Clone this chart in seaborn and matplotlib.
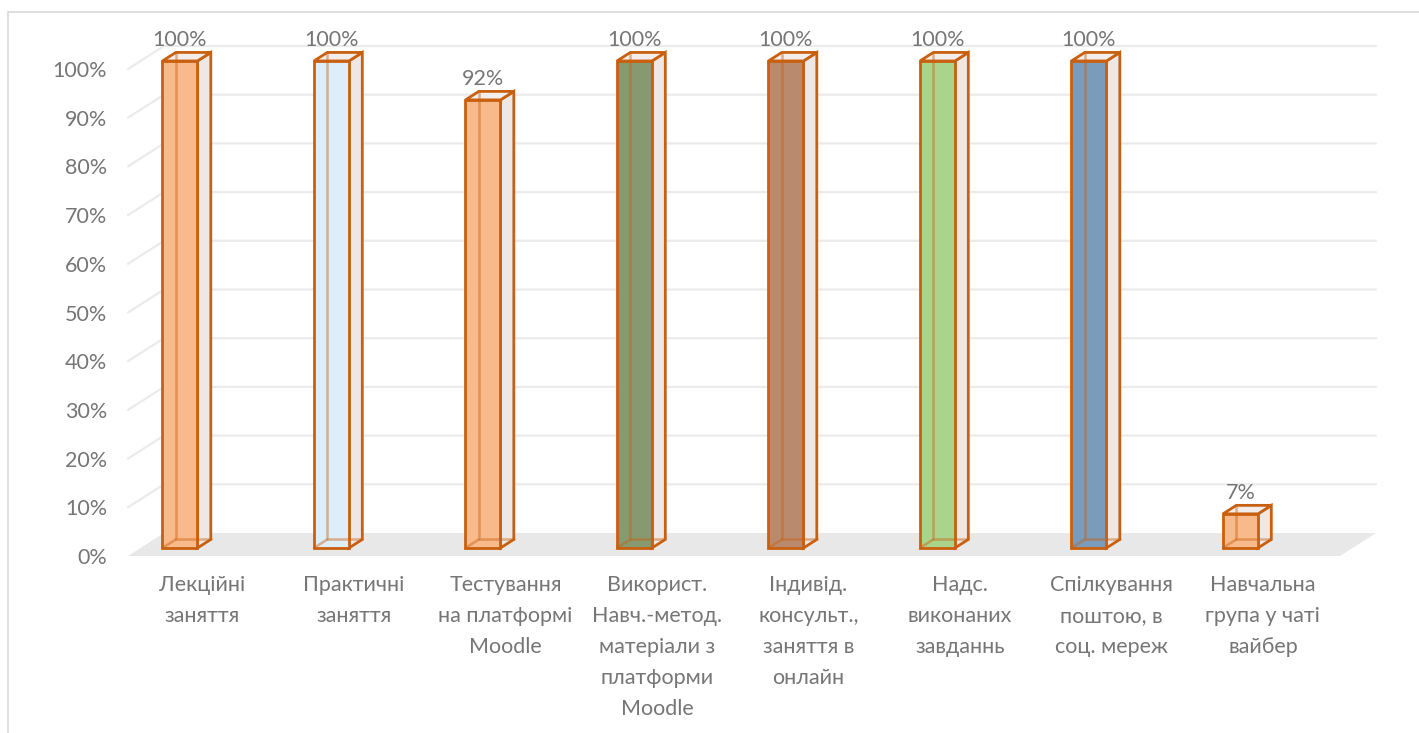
import numpy as np
import matplotlib
matplotlib.use("Agg")
import matplotlib.pyplot as plt
import seaborn as sns
from matplotlib.patches import Polygon, Rectangle
from matplotlib.ticker import PercentFormatter

categories = [
    "Лекційні\nзаняття",
    "Практичні\nзаняття",
    "Тестування\nна платформі\nMoodle",
    "Використ.\nНавч.-метод.\nматеріали з\nплатформи\nMoodle",
    "Індивід.\nконсульт.,\nзаняття в\nонлайн",
    "Надс.\nвиконаних\nзавданнь",
    "Спілкування\nпоштою, в\nсоц. мереж",
    "Навчальна\nгрупа у чаті\nвайбер",
]
values = [1.00, 1.00, 0.92, 1.00, 1.00, 1.00, 1.00, 0.07]
bar_colors = ["#F8B98B", "#DEEEF8", "#F8B98B", "#87996F",
              "#BA8A6E", "#AAD48C", "#7A9BBA", "#F8B98B"]
edge_color = "#C9600F"
text_color = "#767676"

sns.set_theme(style="white")
plt.rcParams['font.family'] = ['Lato', 'DejaVu Sans']

W, H = 1419, 733
fig = plt.figure(figsize=(W / 100, H / 100), dpi=100)
# front plane of the 3D box (pixels)
left, right, bottom, top = 128, 1340, 556, 69
ax = fig.add_axes([left / W, (H - bottom) / H, (right - left) / W, (bottom - top) / H])

sns.barplot(x=categories, y=values, hue=categories, palette=bar_colors,
            saturation=1, width=0.231, legend=False, ax=ax,
            edgecolor=edge_color, linewidth=2, zorder=3)

xlo, xhi = -0.26, 7.74
ax.set_xlim(xlo, xhi)
ax.set_ylim(0, 1)
px_x = (xhi - xlo) / (right - left)
px_y = 1.0 / (bottom - top)

# depth of the floor and position of the bars inside it
DX, DY = 36 * px_x, 23 * px_y
f1, f2 = 0.35, 0.72

# floor and back-wall grid
floor = Polygon([(xlo, 0), (xhi, 0), (xhi + DX, DY), (xlo + DX, DY)],
                closed=True, facecolor="#E8E8E8", edgecolor="none",
                zorder=0.5, clip_on=False)
ax.add_patch(floor)
yticks = np.arange(0, 1.01, 0.1)
for y in yticks[1:]:
    ax.plot([xlo, xlo + DX, xhi + DX], [y, y + DY, y + DY],
            color="#EBEBEB", lw=1.6, zorder=0.6, clip_on=False)

# 3D boxes around the bars drawn by seaborn
bdx, bdy = (f2 - f1) * DX, (f2 - f1) * DY
for p, v in zip(ax.patches[:len(values)], values):
    x0, w, h = p.get_x(), p.get_width(), p.get_height()
    xl, yb = x0 + f1 * DX, f1 * DY
    p.set_x(xl)
    p.set_y(yb)
    p.set_clip_on(False)
    xr, yt = xl + w, yb + h
    side = Polygon([(xr, yb), (xr + bdx, yb + bdy), (xr + bdx, yt + bdy), (xr, yt)],
                   closed=True, facecolor="#EDE7E5", edgecolor=edge_color,
                   lw=2, zorder=2, clip_on=False)
    topf = Polygon([(xl, yt), (xr, yt), (xr + bdx, yt + bdy), (xl + bdx, yt + bdy)],
                   closed=True, facecolor="#F3EEEC", edgecolor=edge_color,
                   lw=2, zorder=2, clip_on=False)
    ax.add_patch(side)
    ax.add_patch(topf)
    ax.plot([xl + bdx, xl + bdx, xr + bdx], [yt + bdy, yb + bdy, yb + bdy],
            color=edge_color, lw=1.8, alpha=0.45, zorder=4, clip_on=False)
    ax.plot([xl, xl + bdx], [yb, yb + bdy], color=edge_color, lw=1.8,
            alpha=0.45, zorder=4, clip_on=False)
    ax.annotate(f"{v:.0%}", xy=(xl + w / 2, yt + bdy), xytext=(0, 2),
                textcoords="offset points", ha="center", va="bottom",
                fontsize=15.5, color=text_color, zorder=5, annotation_clip=False)

ax.set_yticks(yticks)
ax.yaxis.set_major_formatter(PercentFormatter(1, decimals=0))
ax.set_xticks(np.arange(len(categories)) + 35 * px_x)
ax.set_xticklabels(categories, linespacing=1.68)
ax.tick_params(axis="y", length=0, pad=15, labelsize=15.5, labelcolor=text_color)
ax.tick_params(axis="x", length=0, pad=14, labelsize=15.5, labelcolor=text_color)
ax.set_xlabel("")
ax.set_ylabel("")
for s in ax.spines.values():
    s.set_visible(False)
ax.patch.set_alpha(0)

fig.add_artist(Rectangle((8 / W, -0.1), 1.1, (H - 12) / H + 0.1,
                         transform=fig.transFigure, fill=False,
                         edgecolor="#D9D9D9", lw=1.2))

fig.savefig("out.png", dpi=100)
